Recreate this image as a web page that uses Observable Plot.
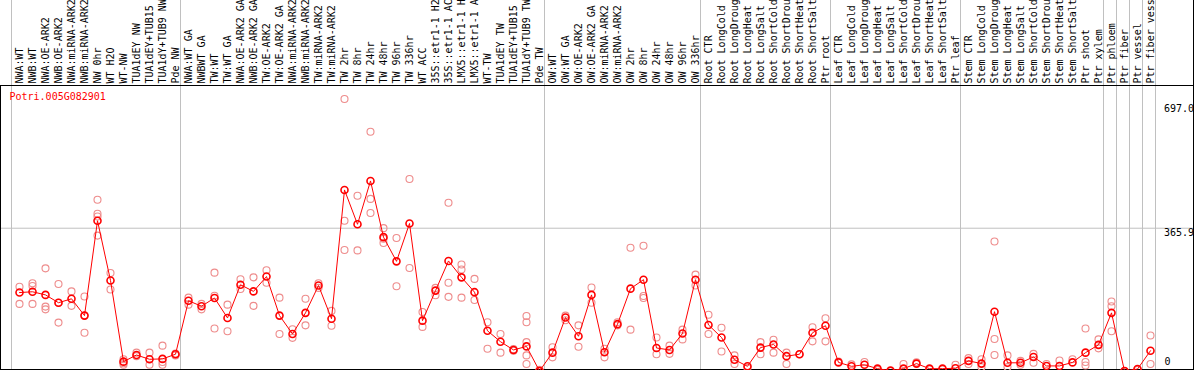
<!DOCTYPE html>
<html><head><meta charset="utf-8">
<script src="https://cdn.jsdelivr.net/npm/d3@7"></script>
<script src="https://cdn.jsdelivr.net/npm/@observablehq/plot@0.6"></script>
<style>
html,body{margin:0;padding:0;background:#fff;}
#chart svg{display:block;}
</style>
</head><body><div id="chart"></div>
<script>
const geneName = "Potri.005G082901";
const categories = [
 "NWA:WT","NWB:WT","NWA:OE-ARK2","NWB:OE-ARK2","NWA:miRNA-ARK2","NWB:miRNA-ARK2","NW 0hr","WT H2O","WT-NW","TUA1dEY NW","TUA1dEY+TUB15 NW","TUA1dY+TUB9 NW","Pde NW",
 "NWA:WT GA","NWBWT GA","TW:WT","TW:WT GA","NWA:OE-ARK2 GA","NWB:OE-ARK2 GA","TW:OE-ARK2","TW:OE-ARK2 GA","NWA:miRNA-ARK2 GA","NWB:miRNA-ARK2 GA","TW:miRNA-ARK2","TW:miRNA-ARK2 GA","TW 2hr","TW 8hr","TW 24hr","TW 48hr","TW 96hr","TW 336hr","WT ACC","35S::etr1-1 H2O","35S::etr1-1 ACC","LMX5::etr1-1 H2O","LMX5::etr1-1 ACC","WT-TW","TUA1dEY TW","TUA1dEY+TUB15 TW","TUA1dY+TUB9 TW","Pde TW",
 "OW:WT","OW:WT GA","OW:OE-ARK2","OW:OE-ARK2 GA","OW:miRNA-ARK2","OW:miRNA-ARK2 GA","OW 2hr","OW 8hr","OW 24hr","OW 48hr","OW 96hr","OW 336hr",
 "Root CTR","Root LongCold","Root LongDrought","Root LongHeat","Root LongSalt","Root ShortCold","Root ShortDrought","Root ShortHeat","Root ShortSalt","Ptr root",
 "Leaf CTR","Leaf LongCold","Leaf LongDrought","Leaf LongHeat","Leaf LongSalt","Leaf ShortCold","Leaf ShortDrought","Leaf ShortHeat","Leaf ShortSalt","Ptr leaf",
 "Stem CTR","Stem LongCold","Stem LongDrought","Stem LongHeat","Stem LongSalt","Stem ShortCold","Stem ShortDrought","Stem ShortHeat","Stem ShortSalt","Ptr shoot","Ptr xylem",
 "Ptr phloem","Ptr fiber","Ptr vessel","Ptr fiber vessel"
];
const groupBreaks = [0, 13, 41, 53, 63, 73, 84, 85, 86, 87, 88];
const means = [
 201,203,195,175,185,142,385,232,24,41,30,31,43,
 180,166,187,136,221,204,242,142,95,149,219,134,464,376,487,343,281,378,129,206,282,240,202,103,75,54,63,0,
 47,137,89,195,48,120,211,234,59,54,96,234,
 118,86,29,12,60,68,38,43,98,116,
 22,12,16,6,1,6,19,6,6,7,
 26,19,152,21,21,36,13,13,22,47,67,
 149,0,5,52
];
const replicates = [
 [216,172],[225,218,172],[263,165,158],[223,124,175],[204,167],[191,98,142],[439,403,396,347],[251,209],[20,16,30],[47,38],[47,16],[65,23,16],[45,40],
 [188,170],[172,158],[252,193,109],[170,102],[235,210],[240,167],[258,226],[188,95],[107,85],[185,117],[225,213],[154,116],[697,385,310],[449,309],[613,441,405],[366,339,328],[341,217],[492,264],[151,113],[213,194],[431,226,190],[273,260,188],[236,182],[125,57],[95,47],[56,52],[141,125,74,40,18],[3,0],
 [61,35],[142,130],[117,62],[214,175],[57,35],[125,117],[316,106],[321,192,187],[86,43],[65,44],[106,81],[247,219],
 [144,95],[111,50],[40,18],[8],[74,43],[80,47],[47,18],[43],[112,76],[135,76],
 [24],[17],[23],[3],[0],[18],[22],[4],[4],[16],
 [33,18],[30,10],[332,82,41],[40,10],[26,16],[44,21],[18],[27],[30],[109,23,14],[81,58],
 [178,166,102],[0],[3],[91,18]
];
const yLabels = [697.0, 365.9, 0];

const meanRows = means.map((v, i) => ({i, v}));
const repRows = replicates.flatMap((vs, i) => vs.map(v => ({i, v})));
const fmt = d => d === 0 ? "0" : d.toFixed(1);
const font = "'DejaVu Sans Mono', monospace";

const chart = Plot.plot({
  width: 1194,
  height: 370,
  marginTop: 85,
  marginBottom: 1,
  marginLeft: 0,
  marginRight: 1,
  x: {type: "linear", domain: [0, 88], range: [11, 1155], axis: null},
  y: {type: "linear", domain: [0, 697], range: [370.5, 98.5], axis: null},
  style: {fontFamily: font, fontSize: "10px", background: "#fff", color: "#000", overflow: "hidden"},
  marks: [
    Plot.ruleY([365.9], {stroke: "#c0c0c0", strokeWidth: 1}),
    Plot.ruleX(groupBreaks, {x: d => d, stroke: "#c0c0c0", strokeWidth: 1, insetTop: -86, insetBottom: -1}),
    Plot.frame({anchor: "top", stroke: "#000"}),
    Plot.frame({anchor: "bottom", stroke: "#000"}),
    Plot.frame({anchor: "left", stroke: "#000"}),
    Plot.frame({anchor: "right", stroke: "#000", insetTop: -86}),
    Plot.axisX(categories.map((c, i) => i + 0.5), {
      anchor: "top", tickSize: 0, tickPadding: 2, tickRotate: -90,
      textAnchor: "start", lineAnchor: "middle", dx: 1.5,
      tickFormat: d => categories[Math.floor(d)], fontSize: 10, fill: "#000", label: null
    }),
    Plot.dot(repRows, {x: d => d.i + 0.5, y: "v", r: 3.5, stroke: "rgb(238,140,140)", strokeWidth: 1.1, fill: "none", dx: 1.5}),
    Plot.line(meanRows, {x: d => d.i + 0.5, y: "v", stroke: "#ff0000", strokeWidth: 1, dx: 1.5}),
    Plot.dot(meanRows, {x: d => d.i + 0.5, y: "v", r: 3.5, stroke: "#ff0000", strokeWidth: 1.6, fill: "none", dx: 1.5}),
    Plot.text([geneName], {frameAnchor: "top-left", text: d => d, dx: 9, dy: 7.5, lineAnchor: "top", textAnchor: "start", fill: "#ff0000", fontSize: 10}),
    Plot.text(yLabels.filter(d => d === 697.0), {x: 88, y: d => d, text: fmt, dx: 8.5, dy: 9.5, textAnchor: "start", lineAnchor: "middle", fill: "#000", fontSize: 10}),
    Plot.text(yLabels.filter(d => d === 365.9), {x: 88, y: d => d, text: fmt, dx: 8.5, dy: 4.5, textAnchor: "start", lineAnchor: "middle", fill: "#000", fontSize: 10}),
    Plot.text(yLabels.filter(d => d === 0), {x: 88, y: d => d, text: fmt, dx: 9, dy: -9, textAnchor: "start", lineAnchor: "middle", fill: "#000", fontSize: 10})
  ]
});
document.getElementById("chart").appendChild(chart);
</script>
</body></html>
